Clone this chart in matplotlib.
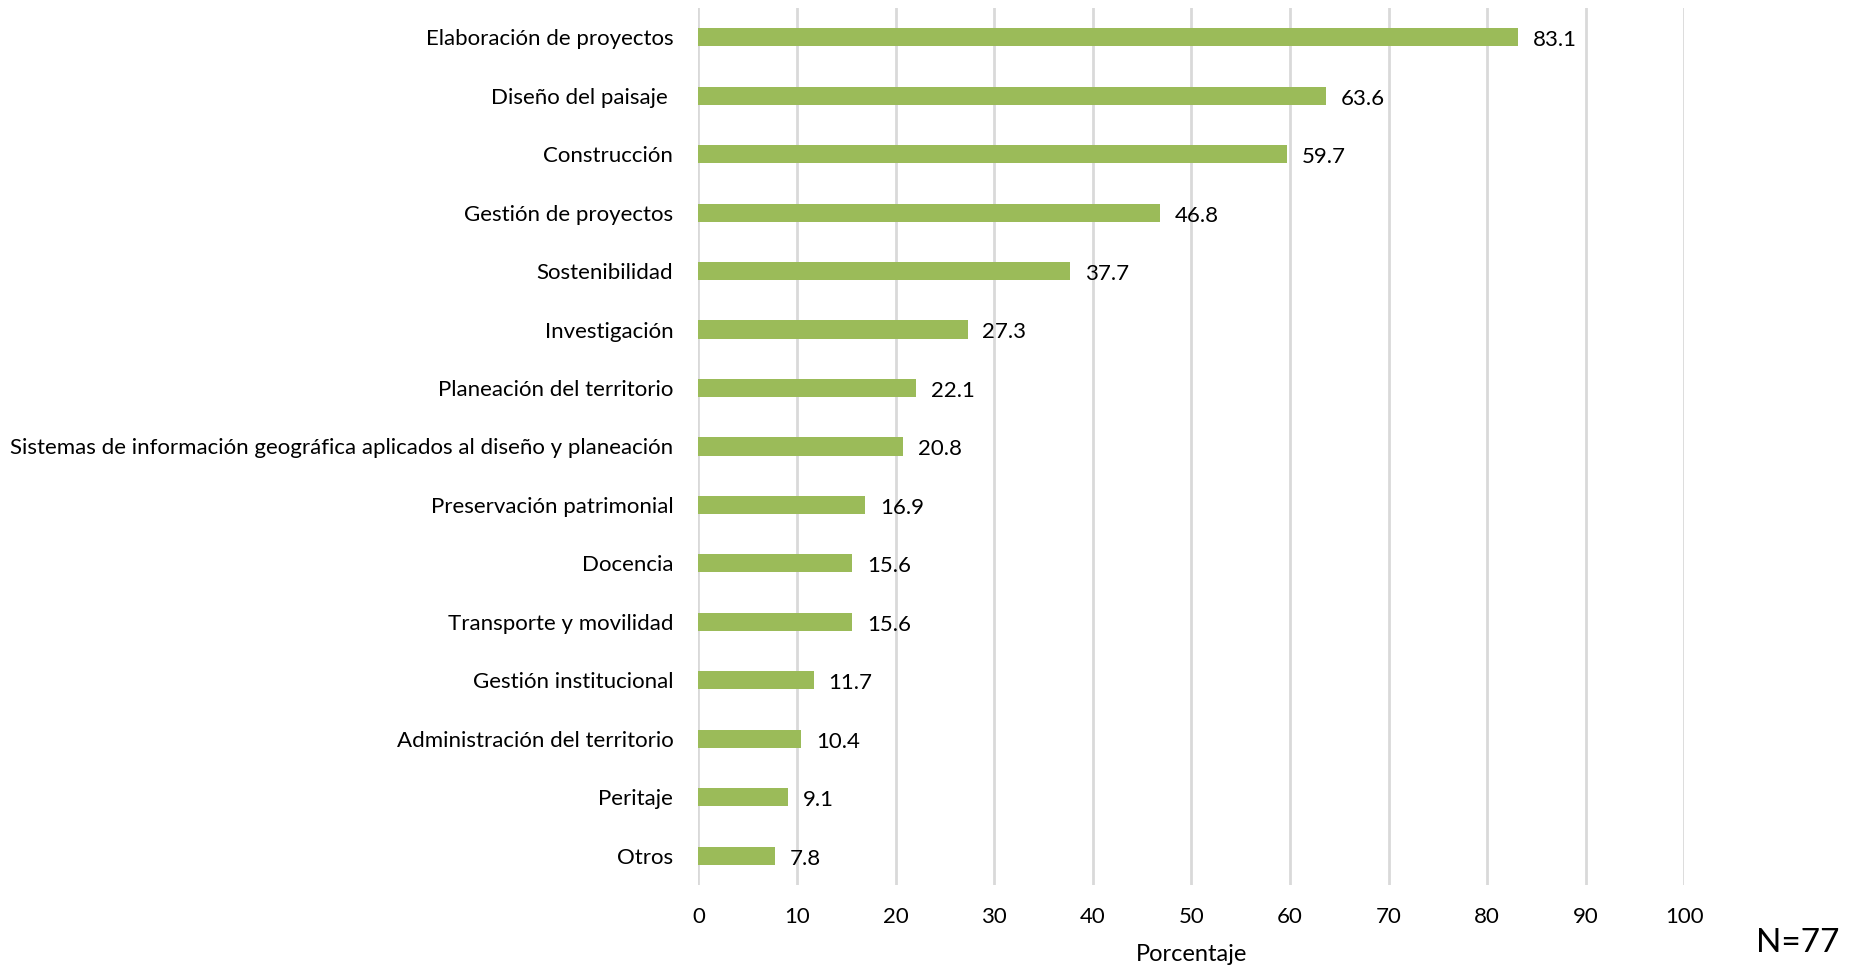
import matplotlib.pyplot as plt
import numpy as np

plt.rcParams['font.family'] = ['Lato', 'DejaVu Sans']

# categories (top to bottom) and percentages
categorias = [
    "Elaboración de proyectos",
    "Diseño del paisaje ",
    "Construcción",
    "Gestión de proyectos",
    "Sostenibilidad",
    "Investigación",
    "Planeación del territorio",
    "Sistemas de información geográfica aplicados al diseño y planeación",
    "Preservación patrimonial",
    "Docencia",
    "Transporte y movilidad",
    "Gestión institucional",
    "Administración del territorio",
    "Peritaje",
    "Otros",
]
porcentajes = [83.1, 63.6, 59.7, 46.8, 37.7, 27.3, 22.1, 20.8, 16.9, 15.6, 15.6, 11.7, 10.4, 9.1, 7.8]
xticks = list(range(0, 101, 10))

fig = plt.figure(figsize=(18.5, 9.65), dpi=100)
ax = fig.add_axes([0.3775, 0.083, 0.533, 0.9087])

y = np.arange(len(categorias))
ax.barh(y, porcentajes, height=0.31, color='#9BBB59', zorder=3)

for yi, v in zip(y, porcentajes):
    ax.text(v + 1.5, yi + 0.05, f"{v:.1f}", va='center', ha='left', fontsize=16, color='black')

ax.set_ylim(len(categorias) - 0.5, -0.5)
ax.set_xlim(0, 100)
ax.set_yticks(y)
ax.set_yticklabels(categorias, fontsize=16)
ax.set_xticks(xticks)
ax.set_xticklabels([str(t) for t in xticks], fontsize=16)
ax.tick_params(length=0)
ax.tick_params(axis='y', pad=18)
ax.tick_params(axis='x', pad=16)
ax.xaxis.grid(True, color='#D9D9D9', linewidth=2, zorder=0)
for s in ax.spines.values():
    s.set_visible(False)

ax.set_xlabel("Porcentaje", fontsize=17, labelpad=12)
fig.text(0.972, 0.0075, "N=77", fontsize=24, ha='center', va='bottom')

fig.savefig("out.png", dpi=100)
